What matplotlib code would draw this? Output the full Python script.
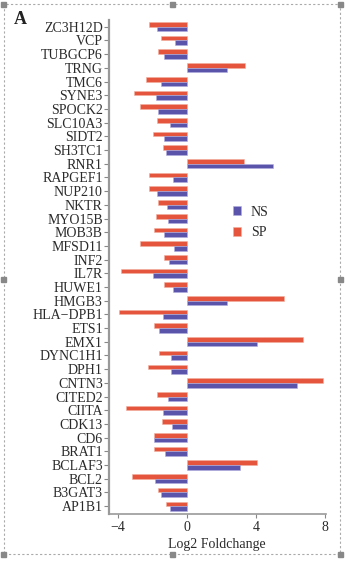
"""Grouped horizontal bars of log2 fold change per gene (NS vs SP)."""

import matplotlib

matplotlib.use("Agg")
import matplotlib.pyplot as plt
import numpy as np
from matplotlib.patches import Rectangle

genes = [
    "ZC3H12D", "VCP", "TUBGCP6", "TRNG", "TMC6", "SYNE3", "SPOCK2", "SLC10A3",
    "SIDT2", "SH3TC1", "RNR1", "RAPGEF1", "NUP210", "NKTR", "MYO15B", "MOB3B",
    "MFSD11", "INF2", "IL7R", "HUWE1", "HMGB3", "HLA\u2212DPB1", "ETS1", "EMX1",
    "DYNC1H1", "DPH1", "CNTN3", "CITED2", "CIITA", "CDK13", "CD6", "BRAT1",
    "BCLAF3", "BCL2", "B3GAT3", "AP1B1",
]
sp_values = [
    -2.22, -1.50, -1.70, 3.37, -2.36, -3.06, -2.71, -1.72,
    -1.99, -1.40, 3.31, -2.20, -2.22, -1.68, -1.77, -1.89,
    -2.71, -1.31, -3.82, -1.33, 5.61, -3.92, -1.93, 6.73,
    -1.60, -2.28, 7.88, -1.75, -3.51, -1.46, -1.89, -1.89,
    4.05, -3.20, -1.66, -1.21,
]
ns_values = [
    -1.75, -0.68, -1.36, 2.30, -1.50, -1.79, -1.70, -0.97,
    -1.36, -1.21, 4.97, -0.84, -1.75, -1.15, -1.11, -1.33,
    -0.78, -1.05, -1.99, -0.84, 2.34, -1.42, -1.62, 4.05,
    -0.90, -0.94, 6.35, -1.11, -1.40, -0.88, -1.89, -1.25,
    3.04, -1.83, -1.52, -0.99,
]
x_ticks = [-4, 0, 4, 8]

SP_COLOR = "#E5543C"
NS_COLOR = "#5A54AA"
W, H = 346, 564

plt.rcParams["font.family"] = ["Liberation Serif", "DejaVu Serif"]
fig = plt.figure(figsize=(W / 100, H / 100), dpi=100)
ax = fig.add_axes([109 / W, 1 - 514 / H, (325.5 - 109) / W, (514 - 20) / H])

y = np.arange(len(genes))
bar_h = 0.34
ax.barh(y - bar_h / 2, sp_values, height=bar_h, color=SP_COLOR, label="SP",
        edgecolor="#f3b0a0", linewidth=0.4)
ax.barh(y + bar_h / 2, ns_values, height=bar_h, color=NS_COLOR, label="NS",
        edgecolor="#b0aee0", linewidth=0.4)

ax.set_ylim(len(genes) - 1 + 0.57, -0.49)
ax.set_xlim(-4.52, 8.02)
ax.set_yticks(y, genes)
ax.set_xticks(x_ticks, [f"{t:d}".replace("-", "\u2212") for t in x_ticks])
ax.tick_params(axis="y", length=3.5, width=0.8, color="#888888", pad=1,
               labelsize=10, labelcolor="#2a2a2a")
ax.tick_params(axis="x", length=3, width=0.8, color="#888888", pad=2,
               labelsize=10, labelcolor="#2a2a2a")
for side in ("top", "right"):
    ax.spines[side].set_visible(False)
ax.spines["left"].set_color("#999999")
ax.spines["left"].set_linewidth(1.6)
ax.spines["bottom"].set_color("#999999")
ax.spines["bottom"].set_linewidth(1.2)
ax.set_xlabel("Log2 Foldchange", fontsize=10, color="#2a2a2a", labelpad=3)

handles, labels = ax.get_legend_handles_labels()
ax.legend(handles[::-1], labels[::-1], loc="center", bbox_to_anchor=(0.655, 0.59),
          frameon=False, fontsize=10, handlelength=0.6, handleheight=0.6,
          handletextpad=0.7, labelspacing=0.55, labelcolor="#2a2a2a")

fig.text(20 / W, 1 - 19 / H, "A", fontsize=13, fontweight="bold",
         ha="center", va="center", color="#222222")

# dashed selection frame with handles
fig.add_artist(Rectangle((4 / W, 1 - 554 / H), 336 / W, 550 / H,
                         transform=fig.transFigure, fill=False,
                         edgecolor="#aaaaaa", linewidth=0.8, linestyle=(0, (2, 2))))
s = 5
for hx, hy in [(4, 4), (172, 4), (340, 4), (4, 279), (340, 279),
               (4, 554), (172, 554), (340, 554)]:
    fig.add_artist(Rectangle(((hx - s / 2) / W, 1 - (hy + s / 2) / H), s / W, s / H,
                             transform=fig.transFigure, color="#888888"))

fig.savefig("out.png", dpi=100)
